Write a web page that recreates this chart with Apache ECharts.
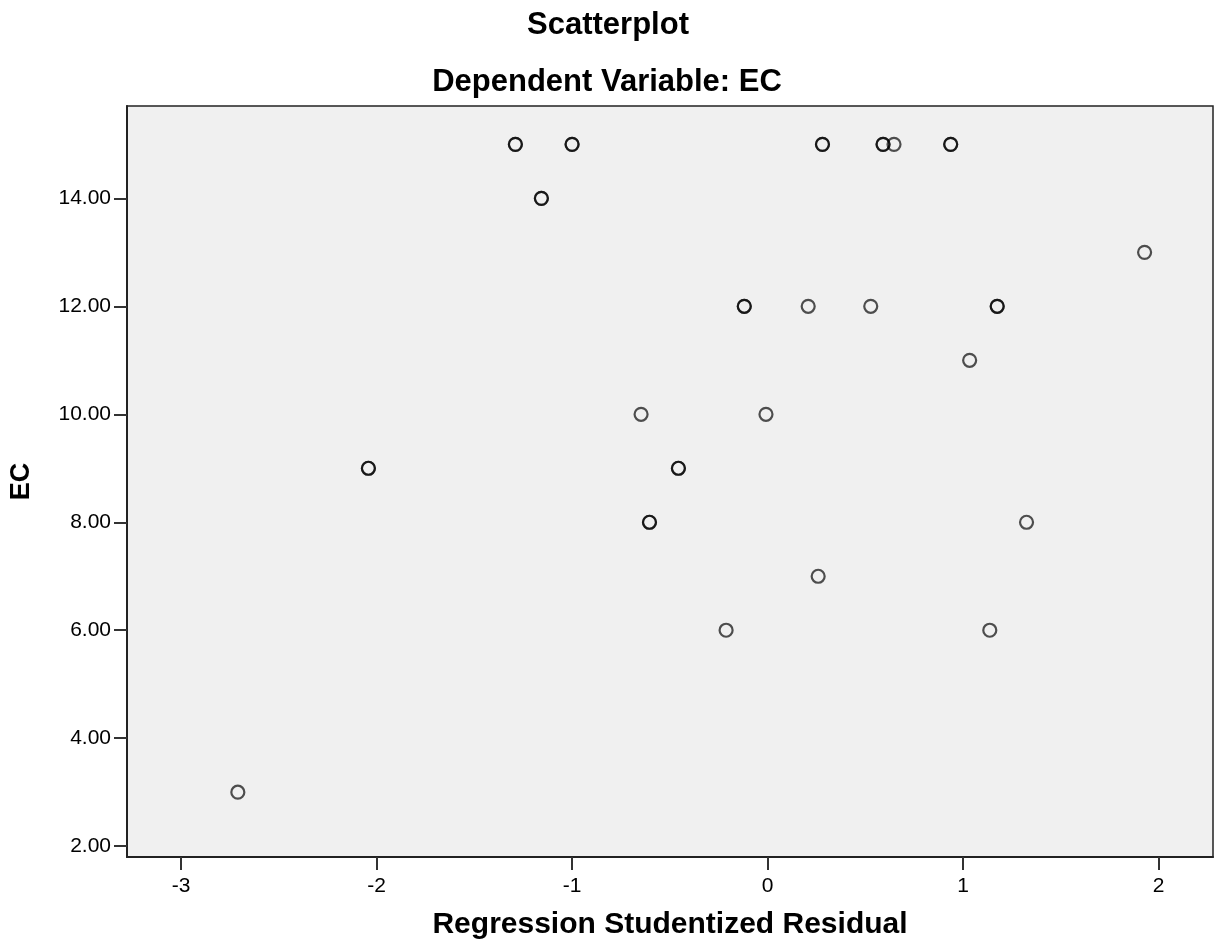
<!DOCTYPE html>
<html>
<head>
<meta charset="utf-8">
<script src="https://cdn.jsdelivr.net/npm/echarts@6/dist/echarts.min.js"></script>
<style>
  html, body { margin: 0; padding: 0; background: #fff; }
  #chart { width: 1217px; height: 949px; }
</style>
</head>
<body>
<div id="chart"></div>
<script>
// Scatterplot: EC vs regression studentized residual
// overlapping cases are listed twice so they draw darker, as in the original
var residuals = [-1.29, -1.29, -1.00, -1.00, -1.157, -1.157, 0.281, 0.281, 0.591, 0.591, 0.647, 0.937, 0.937,
    1.929, -0.119, -0.119, 0.208, 0.528, 1.175, 1.175, 1.034, -0.647, -0.008,
    -2.042, -2.042, -0.456, -0.456, -0.604, -0.604, 1.325, 0.259, -0.212, 1.137, -2.71];
var ecValues = [15, 15, 15, 15, 14, 14, 15, 15, 15, 15, 15, 15, 15,
    13, 12, 12, 12, 12, 12, 12, 11, 10, 10,
    9, 9, 9, 9, 8, 8, 8, 7, 6, 6, 3];
var xTicks = [-3, -2, -1, 0, 1, 2];
var yTicks = [2, 4, 6, 8, 10, 12, 14];

var points = residuals.map(function (r, i) { return [r, ecValues[i]]; });

var chart = echarts.init(document.getElementById('chart'));

var option = {
    backgroundColor: '#fff',
    title: [
        {
            text: 'Scatterplot',
            left: 603, top: 5, textAlign: 'center',
            textStyle: { fontFamily: 'Liberation Sans', fontSize: 31, fontWeight: 'bold', color: '#000' }
        },
        {
            text: 'Dependent Variable: EC',
            left: 602, top: 62, textAlign: 'center',
            textStyle: { fontFamily: 'Liberation Sans', fontSize: 31, fontWeight: 'bold', color: '#000' }
        }
    ],
    grid: {
        left: 126, right: 4, top: 106, bottom: 92,
        show: true,
        backgroundColor: '#f0f0f0',
        borderColor: '#222',
        borderWidth: 1.5
    },
    xAxis: {
        type: 'value',
        min: -3.277, max: 2.279,
        name: 'Regression Studentized Residual',
        nameLocation: 'middle',
        nameGap: 53,
        nameTextStyle: { fontFamily: 'Liberation Sans', fontSize: 30, fontWeight: 'bold', color: '#000' },
        splitLine: { show: false },
        axisLine: { show: true, onZero: false, lineStyle: { color: '#222', width: 2 } },
        axisTick: { show: true, inside: false, customValues: xTicks, length: 13, lineStyle: { color: '#333', width: 2 } },
        axisLabel: {
            customValues: xTicks,
            margin: 19,
            fontFamily: 'Liberation Sans', fontSize: 21, color: '#000'
        }
    },
    yAxis: {
        type: 'value',
        min: 1.80, max: 15.71,
        name: 'EC',
        nameLocation: 'middle',
        nameGap: 92,
        nameRotate: 90,
        nameTextStyle: { fontFamily: 'Liberation Sans', fontSize: 27, fontWeight: 'bold', color: '#000' },
        splitLine: { show: false },
        axisLine: { show: true, onZero: false, lineStyle: { color: '#222', width: 2 } },
        axisTick: { show: true, inside: false, customValues: yTicks, length: 13, lineStyle: { color: '#333', width: 2 } },
        axisLabel: {
            customValues: yTicks,
            margin: 16,
            fontFamily: 'Liberation Sans', fontSize: 21, color: '#000',
            formatter: function (v) { return v.toFixed(2); }
        }
    },
    series: [
        {
            type: 'scatter',
            data: points,
            symbol: 'circle',
            symbolSize: 13,
            itemStyle: {
                color: 'rgba(0,0,0,0)',
                borderColor: 'rgba(0,0,0,0.68)',
                borderWidth: 2.2,
                opacity: 1
            },
            emphasis: { disabled: true },
            animation: false
        }
    ]
};

chart.setOption(option);
</script>
</body>
</html>
